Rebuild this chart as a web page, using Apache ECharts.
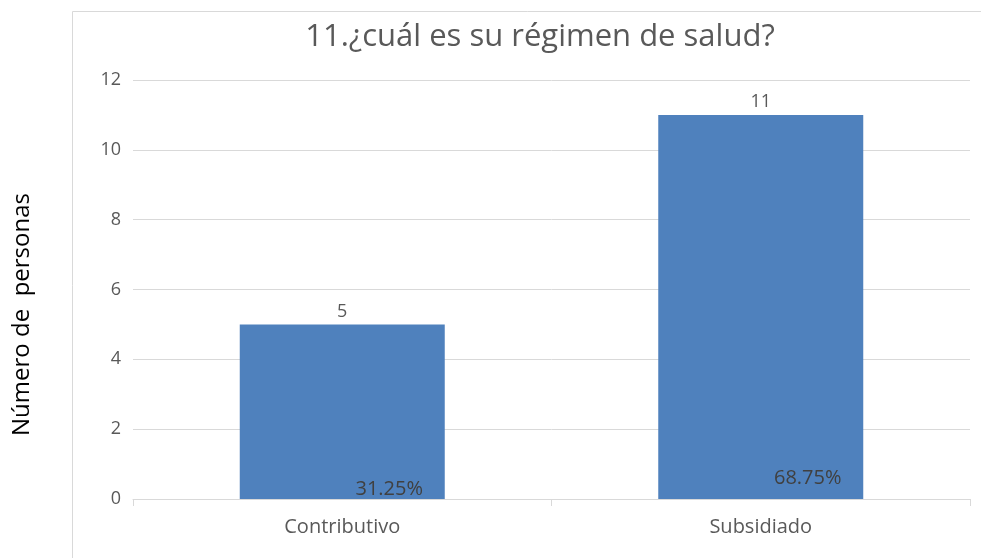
<!DOCTYPE html>
<html>
<head>
<meta charset="utf-8">
<script src="https://cdn.jsdelivr.net/npm/echarts@6/dist/echarts.min.js"></script>
<style>
  html, body { margin: 0; padding: 0; background: #fff; }
  #main { width: 981px; height: 558px; }
</style>
</head>
<body>
<div id="main"></div>
<script>
// datos del gráfico
const categorias = ["Contributivo", "Subsidiado"];
const personas = [5, 11];
const porcentajes = ["31.25%", "68.75%"];
const yTicks = [0, 2, 4, 6, 8, 10, 12];

const fuente = "Open Sans";
const chart = echarts.init(document.getElementById("main"));

// etiquetas de porcentaje dentro de la barra (cada una algo distinta, como en el original)
const offsetsPct = [[47, 2], [47, -9]];

const option = {
  animation: false,
  textStyle: { fontFamily: fuente },
  title: {
    text: "11.¿cuál es su régimen de salud?",
    left: 535,
    top: 17,
    textAlign: "center",
    textStyle: { fontFamily: fuente, fontSize: 31, fontWeight: "normal", color: "#595959" }
  },
  graphic: [{
    type: "rect",
    shape: { x: 72.5, y: 11.5, width: 1000, height: 600 },
    style: { fill: "none", stroke: "#d9d9d9", lineWidth: 1 },
    z: -1
  }],
  grid: { left: 133, right: 11, top: 80, bottom: 59, outerBoundsMode: "none" },
  xAxis: {
    type: "category",
    data: categorias,
    axisLine: { lineStyle: { color: "#d9d9d9" } },
    axisTick: { show: true, length: 7, lineStyle: { color: "#d9d9d9" } },
    axisLabel: { color: "#595959", fontSize: 20, margin: 18, fontFamily: fuente }
  },
  yAxis: {
    type: "value",
    min: yTicks[0],
    max: yTicks[yTicks.length - 1],
    interval: 2,
    name: "Número de  personas",
    nameLocation: "middle",
    nameGap: 99,
    nameTextStyle: { color: "#000", fontSize: 24, fontFamily: fuente, padding: [0, 50, 0, 0] },
    axisLine: { show: false },
    axisTick: { show: false },
    axisLabel: { color: "#595959", fontSize: 18, margin: 12, fontFamily: fuente },
    splitLine: { lineStyle: { color: "#d9d9d9" } }
  },
  series: [
    {
      type: "bar",
      data: personas,
      barWidth: 205,
      itemStyle: { color: "#4f81bd" },
      label: {
        show: true,
        position: "top",
        distance: 4,
        color: "#595959",
        fontSize: 18,
        fontFamily: fuente
      },
      z: 2
    },
    {
      type: "bar",
      data: personas.map((v, i) => ({
        value: v,
        label: { offset: offsetsPct[i] }
      })),
      barWidth: 205,
      barGap: "-100%",
      itemStyle: { color: "transparent" },
      label: {
        show: true,
        position: "insideBottom",
        distance: 2,
        formatter: p => porcentajes[p.dataIndex],
        color: "#404040",
        fontSize: 20,
        fontFamily: fuente
      },
      z: 3
    }
  ]
};

chart.setOption(option);
</script>
</body>
</html>
